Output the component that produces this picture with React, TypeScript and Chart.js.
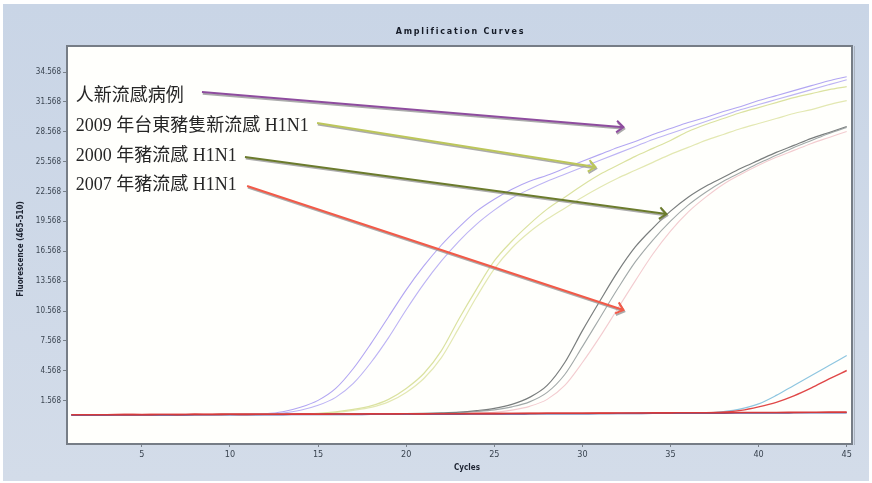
import React, { useEffect, useRef } from "react";
import { Chart, registerables } from "chart.js";

Chart.register(...registerables);

const cycles = [1, 2, 3, 4, 5, 6, 7, 8, 9, 10, 11, 12, 13, 14, 15, 16, 17, 18, 19, 20, 21, 22, 23, 24, 25, 26, 27, 28, 29, 30, 31, 32, 33, 34, 35, 36, 37, 38, 39, 40, 41, 42, 43, 44, 45];

const humanA = [0.14, 0.15, 0.15, 0.16, 0.16, 0.17, 0.17, 0.18, 0.18, 0.19, 0.21, 0.25, 0.45, 0.9, 1.6, 2.8, 4.8, 7.3, 10.0, 12.7, 15.1, 17.2, 19.0, 20.6, 21.8, 22.8, 23.6, 24.2, 24.9, 25.6, 26.3, 27.0, 27.6, 28.3, 28.9, 29.5, 30.0, 30.6, 31.1, 31.7, 32.2, 32.7, 33.2, 33.7, 34.1];
const humanB = [0.13, 0.14, 0.14, 0.15, 0.15, 0.16, 0.16, 0.17, 0.17, 0.18, 0.19, 0.2, 0.32, 0.6, 1.1, 1.9, 3.3, 5.4, 7.9, 10.7, 13.3, 15.6, 17.6, 19.3, 20.7, 21.9, 22.8, 23.6, 24.3, 25.0, 25.7, 26.4, 27.1, 27.8, 28.4, 29.0, 29.6, 30.2, 30.8, 31.3, 31.8, 32.3, 32.8, 33.3, 33.8];
const taitungA = [0.14, 0.15, 0.15, 0.16, 0.16, 0.17, 0.17, 0.18, 0.18, 0.19, 0.19, 0.2, 0.2, 0.22, 0.3, 0.45, 0.7, 1.05, 1.7, 2.8, 4.3, 6.6, 9.8, 12.8, 15.6, 17.6, 19.3, 20.8, 22.0, 23.2, 24.3, 25.2, 26.1, 26.9, 27.7, 28.6, 29.3, 29.9, 30.5, 31.0, 31.5, 32.0, 32.4, 32.8, 33.1];
const taitungB = [0.13, 0.14, 0.14, 0.15, 0.15, 0.16, 0.16, 0.17, 0.17, 0.18, 0.18, 0.19, 0.19, 0.2, 0.26, 0.38, 0.6, 0.9, 1.45, 2.4, 3.8, 5.9, 8.9, 12.0, 14.8, 16.9, 18.5, 19.8, 20.9, 22.0, 23.0, 23.9, 24.7, 25.5, 26.3, 27.0, 27.7, 28.3, 28.9, 29.4, 29.9, 30.4, 30.8, 31.3, 31.7];
const swine2000A = [0.14, 0.15, 0.15, 0.16, 0.16, 0.17, 0.17, 0.18, 0.18, 0.19, 0.19, 0.2, 0.2, 0.21, 0.21, 0.22, 0.22, 0.23, 0.24, 0.26, 0.29, 0.34, 0.42, 0.58, 0.8, 1.2, 1.9, 3.1, 5.4, 8.6, 11.6, 14.5, 17.0, 18.9, 20.6, 22.0, 23.1, 24.0, 24.9, 25.7, 26.5, 27.2, 27.9, 28.5, 29.1];
const swine2000B = [0.13, 0.14, 0.14, 0.15, 0.15, 0.16, 0.16, 0.17, 0.17, 0.18, 0.18, 0.19, 0.19, 0.2, 0.2, 0.21, 0.21, 0.22, 0.22, 0.24, 0.26, 0.3, 0.36, 0.48, 0.65, 0.95, 1.45, 2.4, 4.2, 7.0, 9.9, 12.8, 15.5, 17.7, 19.6, 21.2, 22.5, 23.6, 24.5, 25.4, 26.2, 27.0, 27.7, 28.4, 29.0];
const swine2007 = [0.14, 0.15, 0.15, 0.16, 0.16, 0.17, 0.17, 0.18, 0.18, 0.19, 0.19, 0.2, 0.2, 0.21, 0.21, 0.22, 0.22, 0.23, 0.23, 0.24, 0.25, 0.26, 0.28, 0.31, 0.4, 0.62, 1.0, 1.7, 3.1, 5.4, 8.0, 10.8, 13.6, 16.3, 18.6, 20.5, 22.0, 23.3, 24.3, 25.2, 26.0, 26.7, 27.4, 28.0, 28.6];
const lateBlue = [0.12, 0.13, 0.13, 0.14, 0.14, 0.15, 0.15, 0.16, 0.16, 0.17, 0.17, 0.18, 0.18, 0.19, 0.19, 0.2, 0.2, 0.21, 0.21, 0.22, 0.22, 0.23, 0.23, 0.24, 0.24, 0.25, 0.25, 0.26, 0.26, 0.27, 0.27, 0.28, 0.28, 0.29, 0.3, 0.32, 0.36, 0.48, 0.75, 1.25, 2.1, 3.1, 4.1, 5.1, 6.1];
const lateRed = [0.16, 0.17, 0.17, 0.18, 0.18, 0.19, 0.19, 0.2, 0.2, 0.21, 0.21, 0.22, 0.22, 0.23, 0.23, 0.24, 0.24, 0.25, 0.25, 0.26, 0.26, 0.27, 0.27, 0.28, 0.28, 0.29, 0.29, 0.3, 0.3, 0.31, 0.31, 0.32, 0.32, 0.33, 0.33, 0.34, 0.36, 0.42, 0.6, 0.95, 1.4, 2.05, 2.85, 3.75, 4.6];
const flatRed = [0.15, 0.16, 0.15, 0.17, 0.16, 0.18, 0.17, 0.19, 0.18, 0.2, 0.19, 0.21, 0.2, 0.22, 0.21, 0.23, 0.22, 0.24, 0.23, 0.25, 0.24, 0.26, 0.25, 0.27, 0.27, 0.28, 0.29, 0.3, 0.3, 0.31, 0.32, 0.33, 0.33, 0.34, 0.35, 0.36, 0.36, 0.37, 0.38, 0.39, 0.39, 0.4, 0.41, 0.42, 0.42];
const flatNavy = [0.1, 0.11, 0.11, 0.12, 0.12, 0.13, 0.13, 0.14, 0.14, 0.15, 0.15, 0.16, 0.16, 0.17, 0.17, 0.18, 0.18, 0.19, 0.19, 0.2, 0.2, 0.21, 0.21, 0.22, 0.23, 0.23, 0.24, 0.25, 0.25, 0.26, 0.27, 0.27, 0.28, 0.29, 0.29, 0.3, 0.31, 0.31, 0.32, 0.33, 0.33, 0.34, 0.35, 0.35, 0.36];

const xTicks = [5, 10, 15, 20, 25, 30, 35, 40, 45];
const yTicks = [1.568, 4.568, 7.568, 10.568, 13.568, 16.568, 19.568, 22.568, 25.568, 28.568, 31.568, 34.568];

const chartTitle = "Amplification Curves";
const xTitle = "Cycles";
const yTitle = "Fluorescence (465-510)";

const noteTexts = ["人新流感病例", "2009 年台東豬隻新流感 H1N1", "2000 年豬流感 H1N1", "2007 年豬流感 H1N1"];
const noteX = [1.25, 1.25, 1.25, 1.25];
const noteY = [32.16, 29.15, 26.14, 23.23];
const arrowFromX = [8.41, 14.94, 10.85, 10.97];
const arrowFromY = [32.55, 29.45, 26.04, 23.12];
const arrowToX = [32.33, 30.74, 34.77, 32.33];
const arrowToY = [29.03, 25.03, 20.31, 10.67];
const arrowColors = ["#8e4c9e", "#bcc65a", "#6b7b2c", "#f25a48"];

function pts(arr: number[]) {
  return cycles.map((c, i) => ({ x: c, y: arr[i] }));
}

function drawArrow(ctx: CanvasRenderingContext2D, x1: number, y1: number, x2: number, y2: number, color: string, dx: number, dy: number) {
  const ang = Math.atan2(y2 - y1, x2 - x1);
  const len = 9;
  const spread = 0.7;
  ctx.beginPath();
  ctx.moveTo(x1 + dx, y1 + dy);
  ctx.lineTo(x2 + dx, y2 + dy);
  ctx.moveTo(x2 + dx - len * Math.cos(ang - spread), y2 + dy - len * Math.sin(ang - spread));
  ctx.lineTo(x2 + dx, y2 + dy);
  ctx.lineTo(x2 + dx - len * Math.cos(ang + spread), y2 + dy - len * Math.sin(ang + spread));
  ctx.strokeStyle = color;
  ctx.stroke();
}

const decor = {
  id: "decor",
  beforeDraw(chart: any) {
    const { ctx, chartArea: a, width, height } = chart;
    ctx.save();
    ctx.fillStyle = "#ffffff";
    ctx.fillRect(0, 0, width, height);
    const g = ctx.createLinearGradient(0, 4, 0, 481);
    g.addColorStop(0, "#c9d5e6");
    g.addColorStop(1, "#d3dce9");
    ctx.fillStyle = g;
    ctx.fillRect(3, 4, 866, 477);
    ctx.fillStyle = "#fffffc";
    ctx.fillRect(a.left, a.top, a.right - a.left, a.bottom - a.top);
    ctx.restore();
  },
  afterDraw(chart: any) {
    const { ctx, chartArea: a } = chart;
    const xs = chart.scales.x;
    const ys = chart.scales.y;
    ctx.save();
    // plot frame
    ctx.strokeStyle = "#767d86";
    ctx.lineWidth = 2;
    ctx.strokeRect(a.left, a.top, a.right - a.left, a.bottom - a.top);
    ctx.strokeStyle = "#aab3bf";
    ctx.lineWidth = 1;
    ctx.beginPath();
    ctx.moveTo(a.right + 2.5, a.top);
    ctx.lineTo(a.right + 2.5, a.bottom + 1);
    ctx.stroke();

    // title
    ctx.fillStyle = "#141a26";
    ctx.font = 'bold 8px "DejaVu Sans"';
    (ctx as any).letterSpacing = "1.8px";
    ctx.textAlign = "center";
    ctx.textBaseline = "middle";
    ctx.fillText(chartTitle, (a.left + a.right) / 2 + 1, 32);
    (ctx as any).letterSpacing = "0px";

    // axis titles
    ctx.font = 'bold 8px "DejaVu Sans Condensed", "DejaVu Sans"';
    ctx.fillStyle = "#1c2230";
    ctx.fillText(xTitle, 467, 468);
    ctx.save();
    ctx.translate(21, (a.top + a.bottom) / 2 + 4);
    ctx.rotate(-Math.PI / 2);
    ctx.font = 'bold 8px "DejaVu Sans Condensed", "DejaVu Sans"';
    ctx.fillText(yTitle, 0, 0);
    ctx.restore();

    // notes
    ctx.textAlign = "left";
    ctx.font = '18px "Liberation Serif", "Noto Sans CJK TC"';
    ctx.fillStyle = "#262626";
    for (let i = 0; i < noteTexts.length; i++) {
      ctx.fillText(noteTexts[i], xs.getPixelForValue(noteX[i]), ys.getPixelForValue(noteY[i]));
    }

    // arrows
    ctx.lineWidth = 2;
    ctx.lineCap = "butt";
    ctx.lineJoin = "miter";
    for (let i = 0; i < arrowColors.length; i++) {
      const x1 = xs.getPixelForValue(arrowFromX[i]);
      const y1 = ys.getPixelForValue(arrowFromY[i]);
      const x2 = xs.getPixelForValue(arrowToX[i]);
      const y2 = ys.getPixelForValue(arrowToY[i]);
      drawArrow(ctx, x1, y1, x2, y2, "rgba(150,150,150,0.8)", 0.8, 1.6);
      drawArrow(ctx, x1, y1, x2, y2, arrowColors[i], 0, 0);
    }
    ctx.restore();
  },
};

export default function App() {
  const ref = useRef<HTMLCanvasElement | null>(null);
  useEffect(() => {
    if (!ref.current) return;
    const line = (data: number[], color: string, width = 1.1) => ({
      data: pts(data),
      borderColor: color,
      borderWidth: width,
      pointRadius: 0,
      fill: false,
      cubicInterpolationMode: "monotone" as const,
    });
    const chart = new Chart(ref.current, {
      type: "line",
      data: {
        datasets: [
          line(flatRed, "#d63a3a", 1.6),
          line(flatNavy, "#5a62a8", 1.4),
          line(lateRed, "#e04848", 1.4),
          line(lateBlue, "#8ec6e0", 1.2),
          line(swine2000A, "#7a7e7e", 1.2),
          line(swine2000B, "#a2a9a9", 1.1),
          line(swine2007, "#f3ccd0", 1.1),
          line(humanA, "#b2a6f2", 1.1),
          line(humanB, "#bdb4f4", 1.1),
          line(taitungA, "#dbe2a0", 1.2),
          line(taitungB, "#e3e8b2", 1.2),
        ],
      },
      options: {
        responsive: false,
        animation: false,
        devicePixelRatio: 1,
        layout: { padding: { left: 0, right: 20, top: 46, bottom: 0 } },
        plugins: { legend: { display: false }, tooltip: { enabled: false }, title: { display: false } },
        scales: {
          x: {
            type: "linear",
            min: 0.75,
            max: 45.3,
            afterBuildTicks: (s: any) => {
              s.ticks = xTicks.map((v) => ({ value: v }));
            },
            afterFit: (s: any) => {
              s.height = 39;
            },
            ticks: {
              callback: (v: any) => String(v),
              color: "#3a4450",
              font: { family: '"Liberation Sans Narrow", "DejaVu Sans Condensed", "Liberation Sans"', size: 9 },
              padding: 2,
              maxRotation: 0,
              autoSkip: false,
            },
            grid: { drawOnChartArea: false, drawTicks: true, tickLength: 3, color: "#7a828c" },
            border: { display: false },
          },
          y: {
            type: "linear",
            min: -2.78,
            max: 37.18,
            afterBuildTicks: (s: any) => {
              s.ticks = yTicks.map((v) => ({ value: v }));
            },
            afterFit: (s: any) => {
              s.width = 67;
            },
            ticks: {
              callback: (v: any) => Number(v).toFixed(3),
              color: "#3a4450",
              font: { family: '"Liberation Sans Narrow", "DejaVu Sans Condensed", "Liberation Sans"', size: 8 },
              padding: 2,
              autoSkip: false,
            },
            grid: { drawOnChartArea: false, drawTicks: true, tickLength: 4, color: "#7a828c" },
            border: { display: false },
          },
        },
      },
      plugins: [decor],
    });
    return () => chart.destroy();
  }, []);
  return (
    <div style={{ position: "fixed", left: 0, top: 0, width: 872, height: 483 }}>
      <canvas ref={ref} width={872} height={483} style={{ display: "block", width: 872, height: 483 }} />
    </div>
  );
}
